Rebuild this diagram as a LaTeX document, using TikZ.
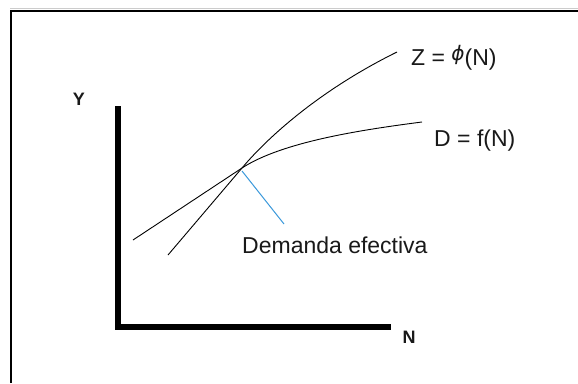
\documentclass[tikz,border=0pt]{standalone}
\usepackage{fontspec}
\setmainfont{Liberation Sans}
\newfontfamily\symfont{DejaVu Sans}
\begin{document}
\begin{tikzpicture}[x=1pt,y=-1pt,
  curve/.style={line width=0.9pt, black},
  axisline/.style={line width=6.5pt, black, line join=miter},
  lbl/.style={inner sep=0pt, font=\fontsize{23}{26}\selectfont, text=black!90},
  axlbl/.style={inner sep=0pt, font=\fontsize{18}{20}\selectfont\bfseries, text=black!90}]
\useasboundingbox (0,0) rectangle (578,383);
\fill[white] (0,0) rectangle (578,383);
% frame
\draw[gray!40, line width=1pt] (10,8.5) -- (578,8.5);
\draw[black, line width=2.2pt] (11,383) -- (11,11) -- (578,11);
% axes
\draw[axisline] (118,106) -- (118,327) -- (391,327);
\node[axlbl] (ylab) at (79,99) {Y};
\node[axlbl] (nlab) at (409,337) {N};
% curves
\coordinate (E) at (242,168);
\coordinate (D0) at (133,240);
\coordinate (D1) at (422,122);
\coordinate (Z0) at (168,255);
\coordinate (Z1) at (397,52);
\draw[curve] (D0) -- (E) .. controls (282,142) and (360,130) .. (D1);
\draw[curve] (Z0) -- (E) .. controls (268,137) and (320,90) .. (Z1);
% labels
\node[lbl, anchor=west] (zlab) at (411,58) {Z = \raisebox{0.4ex}{\symfont\itshape\fontsize{20}{22}\selectfont ϕ}(N)};
\node[lbl, anchor=west] (dlab) at (434,141) {D = f(N)};
\node[lbl, anchor=west] (dem) at (242,245) {Demanda efectiva};
\coordinate (demtop) at (284,224);
\draw[line width=1pt, cyan!70!blue!80] (242,171) -- (demtop);
\end{tikzpicture}
\end{document}
